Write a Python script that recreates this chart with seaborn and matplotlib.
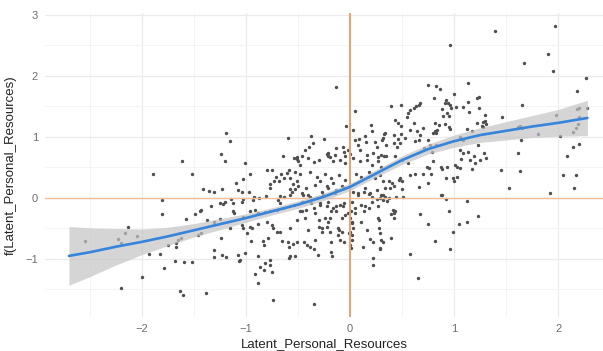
import matplotlib
matplotlib.use("Agg")
import matplotlib.pyplot as plt
from matplotlib.ticker import MultipleLocator
import seaborn as sns
import pandas as pd

# ---- scatter points, read region by region ----
x_left = [-2.55, -2.13, -2.16, -2.23, -2.20, -2.05, -1.93, -1.83, -1.81, -1.81,
          -1.79, -2.00, -2.20, -1.75, -1.67, -1.65, -1.62, -1.67, -1.68, -1.59,
          -1.52, -1.63, -1.60, -1.38, -1.58, -1.49, -1.44, -1.46, -1.43, -1.41,
          -1.35, -1.31, -1.23, -1.34, -1.25, -1.22, -1.12, -1.31, -1.31, -1.23,
          -1.19, -1.08, -1.01, -1.07, -1.06, -1.15, -1.12, -1.25, -0.74, -0.91,
          -0.88, -0.83, -0.77, -0.75, -0.86, -1.61, -1.89, -1.52, -1.19, -1.15]
y_left = [-0.70, -0.47, -0.58, -0.68, -0.74, -0.62, -0.92, -0.92, -0.04, -0.26,
          -1.14, -1.29, -1.47, -0.77, -0.74, -0.69, -0.66, -0.80, -1.03, -1.05,
          -1.05, -1.52, -1.59, -1.55, -0.34, -0.27, -0.21, -0.61, -0.58, 0.14,
          0.11, 0.09, 0.15, -0.14, -0.09, -0.10, -0.09, -0.85, -0.96, -0.93,
          -0.96, -0.93, -0.91, -1.03, -1.02, -0.49, -0.22, -0.34, -1.67, -1.25,
          -1.40, -1.18, -1.10, -1.21, -1.13, 0.60, 0.39, 0.39, 1.06, 0.94]

x_upleft = [-1.24, -1.20, -1.01, -0.96, -0.60, -0.64, -0.54, -0.51, -0.48, -0.80,
            -0.75, -0.66, -0.61, -0.59, -0.53, -0.71, -0.73, -0.77, -0.77, -0.68,
            -0.63, -0.58, -0.55, -0.58, -0.56, -0.53, -0.51, -1.03, -1.10, -1.08,
            -1.04, -0.97, -0.92, -1.14, -1.03, -0.81, -0.67, -0.63, -0.58, -1.20]
y_upleft = [0.72, 0.60, 0.57, 0.40, 0.99, 0.68, 0.66, 0.64, 0.54, 0.45,
            0.45, 0.40, 0.41, 0.46, 0.43, 0.35, 0.28, 0.23, 0.16, 0.27,
            0.32, 0.32, 0.23, 0.14, 0.10, 0.14, 0.28, 0.31, 0.24, 0.13,
            0.09, 0.09, 0.01, -0.01, -0.01, 0.03, 0.03, 0.01, 0.05, -0.07]

x_lowleft = [-1.04, -0.93, -0.87, -0.69, -0.67, -1.43, -1.11, -1.03, -0.96, -0.91,
             -0.88, -0.82, -0.77, -0.70, -0.64, -0.54, -1.37, -1.31, -1.04, -1.03,
             -0.96, -0.94, -0.88, -0.80, -0.75, -0.74, -0.70, -0.67, -0.58, -0.51,
             -1.24, -0.99, -0.95, -0.84, -0.83, -0.79, -0.65, -0.60, -0.59, -0.55,
             -0.51, -0.88, -0.77, -0.82, -0.59, -0.58, -0.53]
y_lowleft = [-0.06, -0.03, 0.00, -0.03, -0.09, -0.20, -0.25, -0.31, -0.22, -0.20,
             -0.25, -0.23, -0.22, -0.20, -0.17, -0.11, -0.36, -0.39, -0.44, -0.50,
             -0.47, -0.50, -0.43, -0.39, -0.44, -0.50, -0.55, -0.56, -0.50, -0.36,
             -0.66, -0.58, -0.70, -0.70, -0.77, -0.65, -0.70, -0.72, -0.80, -0.76,
             -0.72, -0.95, -1.02, -1.07, -0.99, -0.95, -0.95]

x_center = [-0.50, -0.40, -0.35, -0.30, -0.21, -0.16, -0.10, -0.05, 0.03, 0.10,
            0.16, 0.21, 0.27, 0.30, -0.48, -0.38, -0.32, -0.24, -0.18, -0.11,
            -0.05, 0.06, 0.11, 0.18, 0.24, 0.29, -0.50, -0.42, -0.34, -0.27,
            -0.21, -0.14, -0.08, 0.03, 0.08, 0.14, 0.19, 0.26, 0.32, -0.40,
            -0.46, -0.46, -0.37, -0.29, -0.21, -0.13, -0.06, 0.02, 0.05, 0.11,
            0.21, 0.27, -0.48, -0.34, -0.18, -0.02, -0.43, -0.30, -0.21, -0.08,
            0.02, 0.11, 0.27, -0.40, -0.27, -0.11, 0.00, 0.16, -0.34, -0.18,
            0.02, 0.22]
y_center = [0.60, 0.65, 0.59, 0.62, 0.68, 0.60, 0.62, 0.57, 0.66, 0.60,
            0.62, 0.54, 0.60, 0.51, 0.40, 0.43, 0.35, 0.40, 0.32, 0.38,
            0.30, 0.40, 0.35, 0.43, 0.32, 0.38, 0.19, 0.16, 0.21, 0.10,
            0.16, 0.08, 0.19, 0.10, 0.05, 0.16, 0.08, 0.13, 0.05, 0.05,
            0.08, -0.06, -0.09, -0.11, -0.06, -0.14, -0.09, -0.06, -0.17, -0.11,
            -0.06, -0.14, -0.22, -0.25, -0.22, -0.25, -0.33, -0.36, -0.39, -0.33,
            -0.41, -0.39, -0.33, -0.52, -0.55, -0.52, -0.55, -0.52, -0.69, -0.72,
            -0.69, -0.72]

x_center2 = [0.00, 0.01, 0.12, 0.19, 0.29, 0.22, 0.22, 0.28, 0.28, 0.29,
             0.30, 0.39, 0.32, 0.41, 0.42, 0.43, 0.39, -0.35, -0.18, -0.17,
             -0.10, -0.06, -0.31, -0.38, -0.35, -0.41, -0.44, -0.12, -0.08, -0.12,
             -0.19, -0.22, -0.19, -0.24, -0.30, -0.27, -0.16, -0.10, -0.13, -0.07,
             -0.05, 0.14, 0.18, 0.13, 0.08, 0.13, 0.18, 0.21, 0.26, 0.30,
             0.32, 0.37, -0.45, -0.38, -0.32, -0.26, -0.29, -0.22, -0.16, -0.13,
             -0.06, -0.46, -0.42, -0.35, -0.29, -0.22, 0.00, 0.02, 0.03, 0.01,
             0.05, -0.01, 0.02]
y_center2 = [-0.77, -0.82, -0.80, -0.68, -0.84, -0.98, -1.10, -0.36, -0.49, -0.58,
             -0.69, -0.66, -0.72, -0.20, -0.25, -0.22, -0.27, -1.74, -0.88, -0.95,
             -0.69, -0.73, -0.93, -0.80, -0.84, -0.77, -0.73, -0.60, -0.56, -0.50,
             -0.55, -0.47, -0.33, -0.33, -0.48, -0.50, -0.17, -0.11, -0.22, -0.14,
             -0.28, -0.14, -0.17, -0.22, 0.08, 0.09, 0.06, 0.02, -0.02, 0.04,
             -0.03, 0.00, 0.05, 0.02, 0.00, 0.05, 0.27, 0.19, 0.24, 0.13,
             0.16, -0.22, -0.20, -0.17, -0.09, -0.14, -0.33, -0.39, -0.49, -0.21,
             -0.25, -0.58, -0.61]

x_midlow = [1.12, 1.23, 1.05, 1.12, 0.99, 0.95, 0.92, 0.88, 0.96, 0.82,
            0.75, 0.67, 0.58, 0.65, 0.66, 0.75, 0.92, 0.99, 1.00, 0.44,
            0.51, 0.87, 0.36, 0.34, 0.29, 0.76, 0.87, 0.88, 1.03, 1.06,
            1.17, 0.58, 0.62, 0.70, 0.78, 1.03, 0.32, 0.37, 0.40, 0.47,
            0.50, 0.48, 0.38, 0.42, 0.50, 0.34, 0.42, 0.29]
y_midlow = [-0.05, -0.29, -0.42, -0.39, -0.55, -0.22, -0.02, 0.04, -0.84, -0.70,
            -0.43, -0.27, -0.92, -1.31, 0.18, 0.24, 0.33, 0.33, 0.28, 0.01,
            0.01, 0.05, -0.05, 0.02, 0.00, 0.49, 0.50, 0.48, 0.51, 0.49,
            0.48, 0.38, 0.39, 0.39, 0.39, 0.35, 0.27, 0.27, 0.24, 0.30,
            0.27, 0.32, 0.16, 0.19, 0.15, 0.17, -0.33, -0.82]

x_midup = [0.96, 0.75, 0.83, 0.86, 1.13, 1.00, 0.81, 1.24, 0.92, 0.94,
           0.96, 0.91, 1.13, 0.39, 0.49, 0.58, 0.61, 0.63, 0.66, 0.67,
           0.56, 0.55, 0.88, 0.93, 0.95, 1.02, 0.97, 1.09, 1.14, 1.24,
           0.61, 0.70, 0.82, 0.89, 0.91, 0.95, 0.96, 0.85, 0.43, 0.46,
           0.49, 0.34, 0.42, 0.49, 0.46, 0.53, 0.58, 0.64, 0.67, 0.62,
           0.66, 0.80, 0.82, 0.83, 0.84, 1.12, 1.17, 1.22, 1.28, 0.31,
           0.35, 0.42, 0.45, 0.48, 0.75, 0.77, 0.83, 0.71, 0.79, 1.06,
           1.09, 1.13, 1.19, 1.07, 1.15, 1.20, 1.25, 1.31, 0.30, 0.35,
           0.43, 0.50, 0.56, 0.80, 0.93, 1.01, 0.74, 1.23, 1.09, 1.06,
           1.22, 1.30, 1.28]
y_midup = [2.51, 1.85, 1.84, 1.78, 1.89, 1.70, 1.63, 1.65, 1.60, 1.56,
           1.52, 1.55, 1.57, 1.51, 1.52, 1.44, 1.47, 1.50, 1.52, 1.55,
           1.39, 1.32, 1.45, 1.39, 1.35, 1.49, 1.47, 1.49, 1.41, 1.48,
           1.23, 1.14, 1.23, 1.34, 1.21, 1.17, 1.13, 1.20, 1.27, 1.22,
           1.18, 1.06, 1.03, 1.05, 0.97, 0.99, 1.11, 1.09, 1.03, 0.93,
           0.95, 1.06, 1.09, 1.07, 1.11, 1.13, 1.09, 1.22, 1.25, 0.95,
           0.87, 0.90, 0.83, 0.90, 0.95, 0.87, 0.87, 0.81, 0.76, 0.79,
           0.73, 0.76, 0.68, 0.63, 0.62, 0.57, 0.62, 0.65, 0.70, 0.68,
           0.68, 0.62, 0.57, 0.60, 0.51, 0.54, 0.51, 0.87, 0.95, 1.00,
           1.63, 1.36, 1.17]

x_upzero = [-0.13, 0.05, -0.04, 0.03, -0.37, -0.36, -0.43, -0.39, -0.25, 0.05,
            0.09, 0.14, 0.20, 0.21, 0.15, 0.24, 0.26, 0.33, 0.32, -0.13,
            -0.07, -0.06, -0.02, 0.00, -0.05, -0.14, -0.21, -0.19, -0.22, -0.51,
            -0.46, 0.16, 0.22, 0.27, 0.33, 0.10, 0.08]
y_upzero = [1.82, 1.43, 1.18, 1.11, 1.02, 0.90, 0.79, 0.83, 0.96, 0.95,
            0.96, 1.02, 1.19, 1.10, 0.91, 0.92, 0.83, 1.05, 0.98, 0.81,
            0.83, 0.76, 0.78, 0.72, 0.68, 0.70, 0.73, 0.67, 0.72, 0.67,
            0.68, 0.70, 0.73, 0.67, 0.68, 0.79, 0.87]

x_right = [1.39, 1.97, 1.67, 1.90, 1.95, 2.27, 2.18, 1.65, 2.28, 2.18,
           2.20, 1.46, 1.98, 1.30, 1.31, 1.27, 2.20, 2.19, 2.17, 2.14,
           1.61, 1.63, 1.65, 1.81, 2.02, 1.64, 1.29, 1.61, 2.14, 2.20,
           2.08, 1.45, 1.63, 2.05, 2.17, 1.53, 1.92, 2.15]
y_right = [2.74, 2.82, 2.21, 2.36, 2.08, 1.96, 1.76, 1.53, 1.48, 1.46,
           1.47, 1.32, 1.36, 1.26, 1.21, 1.18, 1.32, 1.21, 1.14, 1.08,
           1.16, 1.18, 1.14, 1.04, 1.02, 0.95, 0.73, 0.74, 0.83, 0.89,
           0.69, 0.46, 0.44, 0.38, 0.37, 0.16, 0.08, 0.16]

# ---- smooth fit and its confidence band ----
smooth_x = [-2.70, -2.50, -2.25, -2.00, -1.75, -1.50, -1.25, -1.00, -0.75, -0.50,
            -0.25, 0.00, 0.25, 0.50, 0.75, 1.00, 1.25, 1.50, 1.75, 2.00, 2.28]
smooth_fit = [-0.95, -0.89, -0.80, -0.72, -0.63, -0.53, -0.43, -0.33, -0.22, -0.11,
              0.02, 0.18, 0.40, 0.62, 0.80, 0.93, 1.03, 1.10, 1.17, 1.23, 1.31]
smooth_lo = [-1.43, -1.29, -1.10, -0.93, -0.78, -0.64, -0.52, -0.40, -0.28, -0.17,
             -0.04, 0.12, 0.34, 0.55, 0.72, 0.83, 0.91, 0.95, 0.99, 1.01, 1.02]
smooth_hi = [-0.47, -0.49, -0.50, -0.51, -0.48, -0.42, -0.34, -0.26, -0.16, -0.05,
             0.08, 0.24, 0.46, 0.69, 0.88, 1.03, 1.15, 1.25, 1.35, 1.45, 1.60]

x_ticks = [-2, -1, 0, 1, 2]
y_ticks = [-1, 0, 1, 2, 3]
x_title = "Latent_Personal_Resources"
y_title = "f(Latent_Personal_Resources)"

xs = x_left + x_upleft + x_lowleft + x_center + x_center2 + x_midlow + x_midup + x_upzero + x_right
ys = y_left + y_upleft + y_lowleft + y_center + y_center2 + y_midlow + y_midup + y_upzero + y_right
df = pd.DataFrame({"x": xs, "y": ys})

sns.set_theme(style="whitegrid")
plt.rcParams['font.family'] = ['Liberation Sans', 'DejaVu Sans']

fig = plt.figure(figsize=(6.03, 3.51), dpi=100)
ax = fig.add_axes([0.0746, 0.097, 0.9254, 0.866])
ax.set_facecolor("white")
for s in ax.spines.values():
    s.set_visible(False)

sns.scatterplot(data=df, x="x", y="y", s=6, color="#4f4f4f", linewidth=0,
                ax=ax, zorder=2)
ax.axvline(0, color="#E6A272", lw=1.4, zorder=3)
ax.axhline(0, color="#F2BE98", lw=1.0, zorder=3)
ax.fill_between(smooth_x, smooth_lo, smooth_hi, color="#c4c4c4", alpha=0.7,
                lw=0, zorder=4)
sns.lineplot(x=smooth_x, y=smooth_fit, color="#3684DB", lw=1.9, ax=ax, zorder=5)

ax.set_xlim(-2.93, 2.43)
ax.set_ylim(-1.95, 3.03)
ax.set_xticks(x_ticks)
ax.set_yticks(y_ticks)
ax.xaxis.set_minor_locator(MultipleLocator(0.5))
ax.yaxis.set_minor_locator(MultipleLocator(0.5))
ax.grid(which="major", color="#ebebeb", lw=0.9)
ax.grid(which="minor", color="#f3f3f3", lw=0.6)
ax.tick_params(which="both", length=0, labelsize=8, labelcolor="#6e6e6e", pad=5)
ax.set_xlabel(x_title, fontsize=9.5, color="#222222", labelpad=3)
ax.set_ylabel(y_title, fontsize=9.5, color="#222222", labelpad=6)

fig.savefig("out.png", dpi=100)
